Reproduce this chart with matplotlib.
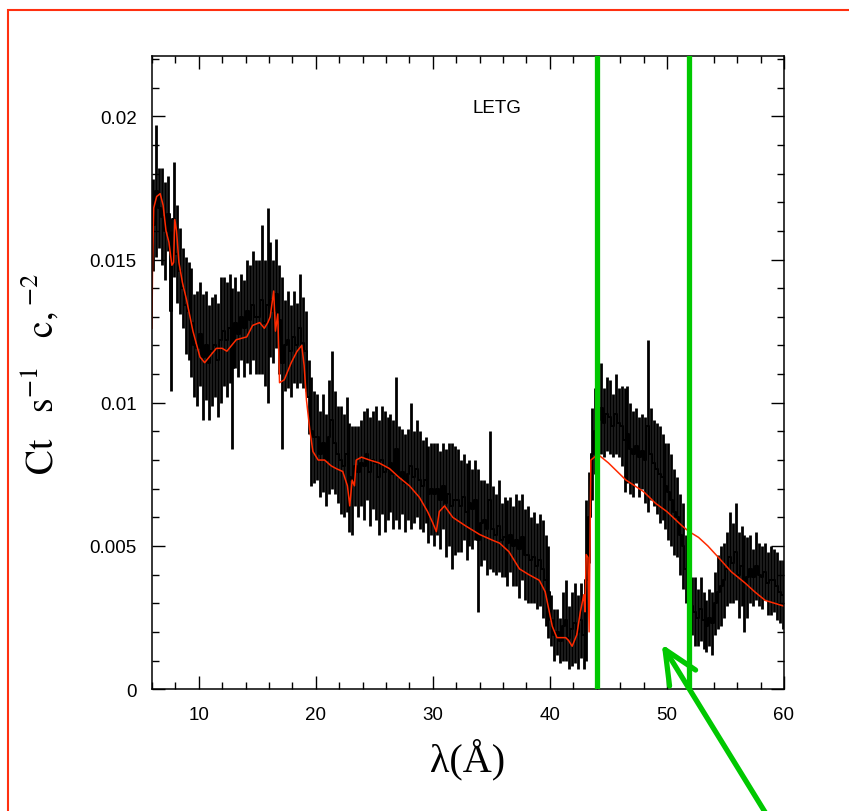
import numpy as np
import matplotlib.pyplot as plt
from matplotlib.patches import Rectangle
from matplotlib.ticker import MultipleLocator, FuncFormatter

plt.rcParams['font.family'] = ['Liberation Sans', 'DejaVu Sans']
plt.rcParams['mathtext.fontset'] = 'stix'

# LETG spectrum, 0.25 A bins from 6 to 60 A (counts/s/A, units of 1e-3)
wave = np.arange(6.125, 60.0, 0.25)
flux = [
    16.2, 17.4, 16.8, 16.5, 16.0, 16.6, 13.2, 16.4,
    15.2, 14.6, 14.0, 13.4, 13.2, 12.8, 12.0, 11.9,
    12.4, 11.6, 12.0, 11.4, 11.8, 12.0, 11.5, 12.2,
    12.5, 12.2, 12.6, 11.2, 12.8, 12.4, 13.0, 12.6,
    13.2, 12.9, 13.4, 13.0, 13.0, 13.6, 12.8, 13.4,
    13.6, 13.2, 13.8, 12.9, 11.4, 12.0, 12.2, 11.8,
    12.3, 12.0, 12.6, 12.1, 11.8, 10.2, 9.0, 8.8,
    8.8, 8.2, 8.6, 8.0, 8.8, 9.4, 8.6, 8.2,
    8.0, 7.8, 8.2, 7.4, 7.3, 7.8, 7.6, 7.9,
    7.8, 8.2, 7.6, 8.0, 7.9, 7.4, 8.0, 7.6,
    7.7, 7.9, 7.5, 8.4, 7.4, 7.6, 7.2, 7.5,
    7.8, 7.4, 7.7, 7.3, 7.1, 7.3, 6.8, 7.0,
    6.8, 7.0, 6.6, 7.1, 6.5, 6.8, 6.4, 6.6,
    6.6, 6.4, 6.7, 6.2, 6.5, 6.3, 6.6, 5.2,
    5.8, 5.9, 5.6, 6.6, 5.6, 5.4, 5.7, 5.2,
    5.3, 5.1, 5.4, 5.0, 5.2, 4.9, 5.3, 4.7,
    4.7, 4.5, 4.6, 4.3, 4.5, 4.2, 3.8, 3.4,
    2.4, 1.9, 2.0, 1.7, 2.2, 2.4, 1.8, 2.1,
    2.3, 2.0, 2.4, 1.9, 3.8, 6.0, 8.2, 9.0,
    9.4, 9.8, 9.3, 9.6, 9.5, 9.2, 9.6, 9.3,
    9.2, 8.7, 8.9, 8.4, 8.2, 8.5, 8.1, 8.3,
    8.0, 9.2, 8.2, 7.9, 7.7, 7.5, 7.4, 7.1,
    6.9, 6.6, 6.2, 6.0, 5.4, 5.0, 4.2, 3.8,
    2.9, 2.7, 2.5, 2.8, 2.4, 2.2, 2.5, 2.3,
    3.0, 3.4, 3.6, 3.8, 4.2, 4.6, 4.4, 4.8,
    4.0, 4.3, 3.7, 3.9, 4.2, 3.9, 4.3, 4.0,
    3.9, 4.1, 3.7, 3.8, 3.8, 3.6, 3.4, 3.3,
]
err = [
    1.6, 2.3, 1.4, 1.7, 1.7, 1.3, 2.8, 2.0,
    1.7, 1.5, 1.4, 1.7, 1.7, 1.9, 1.8, 2.0,
    1.8, 2.2, 1.9, 2.0, 1.9, 1.8, 2.0, 2.2,
    1.9, 2.0, 1.9, 2.8, 1.6, 1.5, 1.5, 1.7,
    1.8, 1.9, 1.9, 2.0, 2.0, 2.6, 2.2, 3.4,
    2.0, 1.8, 1.9, 1.9, 3.0, 1.6, 1.7, 1.6,
    1.6, 1.5, 1.9, 1.6, 1.4, 1.3, 1.9, 1.6,
    1.5, 1.5, 1.7, 1.6, 2.0, 2.4, 1.8, 1.7,
    1.9, 1.8, 2.0, 1.9, 1.9, 1.4, 1.6, 1.5,
    1.9, 1.6, 1.9, 1.7, 2.0, 2.0, 1.9, 2.1,
    1.8, 1.7, 1.9, 2.5, 1.8, 1.5, 1.7, 1.6,
    2.2, 1.6, 1.7, 1.7, 1.6, 1.5, 1.7, 1.6,
    1.8, 1.6, 1.7, 1.5, 1.9, 1.8, 2.2, 1.9,
    1.8, 1.6, 1.5, 1.7, 1.5, 1.4, 1.4, 2.5,
    1.5, 1.4, 1.6, 2.4, 1.5, 1.4, 1.6, 1.3,
    1.4, 1.5, 1.3, 1.4, 1.6, 1.7, 1.5, 1.6,
    1.7, 1.5, 1.6, 1.5, 1.6, 1.7, 1.6, 1.6,
    0.9, 0.9, 0.8, 0.8, 1.2, 1.4, 1.1, 1.3,
    1.4, 1.3, 1.3, 1.2, 2.8, 1.6, 1.6, 1.5,
    1.4, 1.6, 1.2, 1.3, 1.3, 1.1, 1.4, 1.2,
    1.4, 1.8, 1.7, 1.6, 1.5, 1.3, 1.4, 1.3,
    1.5, 3.0, 1.6, 1.5, 1.6, 1.7, 1.5, 1.5,
    1.7, 1.6, 1.5, 1.4, 1.4, 1.5, 1.2, 1.0,
    1.0, 1.2, 1.0, 1.1, 1.0, 0.9, 1.0, 1.1,
    1.1, 1.3, 1.4, 1.3, 1.3, 1.6, 1.4, 1.7,
    1.5, 1.4, 1.7, 1.4, 1.2, 1.0, 1.2, 1.1,
    1.1, 1.0, 1.1, 1.2, 1.1, 1.2, 1.1, 1.2,
]

# folded model
model_wave = [6.00, 6.05, 6.15, 6.40, 6.70, 6.95, 7.20, 7.45, 7.70, 7.85, 7.95,
              8.10, 8.30, 8.60, 8.95, 9.50, 10.1, 10.5, 10.9, 11.5, 12.0, 12.4,
              13.2, 14.1, 14.6, 15.2, 15.6, 15.9, 16.1, 16.4, 16.55, 16.75, 16.9,
              17.3, 17.9, 18.4, 18.8, 19.0, 19.2, 19.5, 19.75, 20.2, 20.75, 21.3,
              21.75, 22.3, 22.7, 22.9, 23.1, 23.3, 23.45, 23.9, 24.6, 25.4, 26.3,
              27.1, 28.0, 28.85, 29.55, 30.0, 30.3, 30.55, 31.0, 31.7, 32.8, 34.0,
              35.1, 35.7, 36.5, 37.4, 38.2, 39.1, 39.6, 40.2, 40.6, 41.35, 41.6,
              41.9, 42.3, 42.6, 42.9, 43.0, 43.1, 43.25, 43.35, 43.5, 44.1, 45.0,
              46.5, 48.0, 49.0, 50.0, 51.3, 51.9, 52.7, 53.5, 54.4, 55.5, 56.7,
              57.5, 58.4, 59.2, 60.0]
model_flux = [12.6, 14.9, 16.8, 17.2, 17.3, 16.9, 16.0, 15.6, 14.8, 14.9, 16.4,
              16.0, 14.9, 14.2, 13.6, 12.5, 11.6, 11.4, 11.6, 11.9, 11.9, 11.8,
              12.2, 12.3, 12.7, 12.8, 12.6, 12.8, 13.0, 13.9, 12.5, 13.1, 10.7,
              10.8, 11.4, 11.8, 12.0, 11.3, 10.1, 9.0, 8.3, 8.0, 8.0, 7.8,
              7.7, 7.6, 7.1, 6.4, 7.3, 7.1, 8.0, 8.1, 8.0, 7.9, 7.7,
              7.4, 7.1, 6.7, 6.2, 5.8, 5.5, 6.2, 6.4, 6.0, 5.7, 5.4,
              5.2, 5.1, 4.8, 4.2, 4.0, 3.8, 3.4, 2.2, 1.8, 1.8, 1.7,
              1.5, 1.9, 2.7, 3.3, 2.7, 4.7, 4.6, 2.0, 8.0, 8.2, 7.9,
              7.3, 6.9, 6.5, 6.2, 5.7, 5.5, 5.3, 5.0, 4.6, 4.1, 3.7,
              3.4, 3.1, 3.0, 2.9]

edges = [44.0, 51.85]   # marked wavelength band

flux = np.array(flux) * 1e-3
err = np.array(err) * 1e-3
model_flux = np.array(model_flux) * 1e-3

fig = plt.figure(figsize=(8.49, 8.12), dpi=100)
ax = fig.add_axes([0.179, 0.150, 0.7444, 0.7796])

ax.vlines(wave, flux - err, flux + err, color='black', lw=2.0)
ax.plot(wave, flux, color='black', lw=1.4, drawstyle='steps-mid')
ax.plot(model_wave, model_flux, color='#ff2a00', lw=1.1)

for e in edges:
    ax.axvline(e, color='#00c800', lw=3.8, zorder=5)

ax.set_xlim(6, 60)
ax.set_ylim(0, 0.0221)

ax.xaxis.set_major_locator(MultipleLocator(10))
ax.xaxis.set_minor_locator(MultipleLocator(2))
ax.yaxis.set_major_locator(MultipleLocator(0.005))
ax.yaxis.set_minor_locator(MultipleLocator(0.001))
ax.yaxis.set_major_formatter(FuncFormatter(lambda v, p: '%g' % v))

ax.tick_params(which='both', direction='in', top=True, right=True, width=1.0,
               labelsize=13.5)
ax.tick_params(which='major', length=9.5)
ax.tick_params(which='minor', length=5)
ax.tick_params(axis='x', pad=12)
ax.tick_params(axis='y', pad=11)
for s in ax.spines.values():
    s.set_linewidth(1.1)

ax.text(35.5, 0.0203, 'LETG', fontsize=13.5, ha='center', va='center')

ax.set_xlabel('λ(Å)', family='Liberation Serif', fontsize=29, labelpad=11)
ax.set_ylabel(r'$\mathrm{Ct\ \ \ s^{-1}\ \ \ c,^{-2}}$', fontsize=27, labelpad=20)

# arrow pointing at the gap
ax.annotate('', xy=(49.56, 0.00157), xytext=(59.6, -0.0051),
            arrowprops=dict(arrowstyle='->,head_length=1.2,head_width=0.55',
                            color='#00c800', lw=3.8, mutation_scale=20,
                            shrinkA=0, shrinkB=0),
            annotation_clip=False)

fig.add_artist(Rectangle((0.0094, -0.2), 1.2, 1.1865, transform=fig.transFigure,
                         fill=False, edgecolor='#ff3010', lw=1.5))

fig.savefig('out.png', dpi=100)
